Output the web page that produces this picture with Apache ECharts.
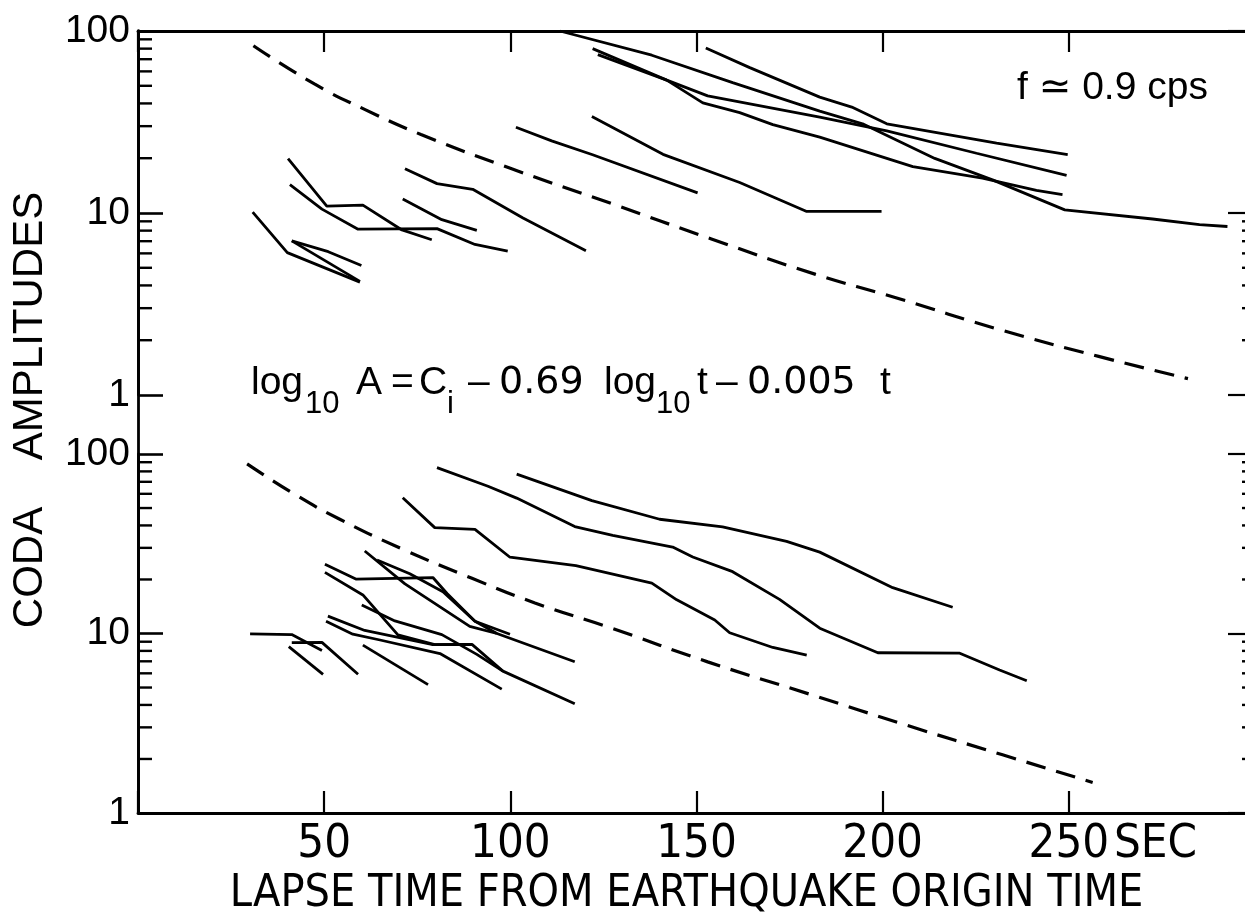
<!DOCTYPE html>
<html>
<head>
<meta charset="utf-8">
<script src="https://cdn.jsdelivr.net/npm/echarts@6.0.0/dist/echarts.min.js"></script>
<style>
  html, body { margin: 0; padding: 0; background: #fff; }
  #chart { width: 1245px; height: 917px; }
</style>
</head>
<body>
<div id="chart"></div>
<script>
// lapse time (s) and coda amplitude
const X_TICK_LABELS = ['50', '100', '150', '200', '250'];
const MINOR_TICKS = [2, 3, 4, 5, 6, 7, 8, 9, 20, 30, 40, 50, 60, 70, 80, 90];

// upper panel
const topDashed = [[31, 83], [47.5, 51], [61, 37], [76, 27], [100, 17.6], [127, 11.3], [154, 7.2], [182, 4.6], [204, 3.4], [231, 2.3], [258, 1.63], [282, 1.23]];
const topA = [[30.8, 10.1], [40.1, 6.06], [59.6, 4.17]];
const topB = [[41.3, 7.03], [51.1, 6.13], [60.0, 5.15]];
const topC = [[41.3, 7.03], [59.6, 4.21]];
const topD = [[40.3, 19.9], [50.7, 10.9], [60.4, 11.05], [70.9, 8.07], [78.9, 7.13]];
const topE = [[40.8, 14.3], [49.4, 10.5], [59.1, 8.15], [80.3, 8.21], [90.5, 6.72], [99.3, 6.17]];
const topF = [[71.7, 17.5], [80.3, 14.5], [89.9, 13.5], [103.4, 9.38], [120.3, 6.21]];
const topG = [[71.1, 11.95], [81.6, 9.19], [91.0, 8.02]];
const topH = [[101.5, 29.6], [111.1, 24.9], [122.1, 20.9], [150.3, 12.9]];
const topI = [[121.9, 33.9], [141.0, 21.0], [161.6, 14.7], [179.6, 10.2], [199.7, 10.2]];
const topQ = [[113.3, 100], [138.0, 73.6], [159.7, 52.0], [183.1, 36.3], [194.6, 30.9], [214.0, 19.95], [229.5, 15.2], [248.9, 10.4], [272.5, 9.27], [285.1, 8.63], [292.6, 8.43]];
const topP = [[122.1, 80.0], [142.0, 53.7], [153.0, 44.0], [183.1, 33.6], [201.1, 28.3], [225.2, 21.3], [249.4, 16.1]];
const topR = [[123.5, 74.2], [142.0, 53.7], [151.7, 40.3], [161.6, 35.6], [170.5, 30.6], [183.1, 26.1], [208.1, 18.0], [226.8, 15.55], [241.3, 13.3], [248.3, 12.6]];
const topS = [[152.5, 80.7], [164.3, 62.9], [183.1, 43.3], [191.7, 38.2], [201.1, 30.9], [230.6, 24.2], [249.7, 20.9]];

// lower panel
const botDashed = [[29.3, 88.1], [42.7, 58.6], [54.2, 43.3], [70.9, 29.6], [89.7, 20.3], [106.6, 14.8], [127.2, 10.7], [153.0, 6.95], [180.4, 4.59], [206.7, 3.07], [232.2, 2.11], [256.4, 1.48]];
const botU1 = [[80.3, 84.0], [94.0, 66.1], [101.7, 56.8], [117.3, 39.4], [127.5, 35.2], [143.6, 30.3], [149.0, 26.7], [159.7, 22.1], [172.3, 15.5], [183.1, 10.7], [198.7, 7.81], [220.7, 7.77], [231.4, 6.26], [238.7, 5.45]];
const botU2 = [[101.7, 77.3], [121.9, 55.0], [140.1, 43.3], [157.0, 39.3], [174.2, 32.6], [183.1, 28.4], [202.7, 18.0], [218.8, 14.0]];
const botU3 = [[71.1, 57.0], [79.7, 38.9], [90.5, 38.0], [99.9, 26.6], [117.6, 23.9], [138.0, 19.1], [144.7, 15.4], [154.9, 11.9], [158.9, 10.1], [170.5, 8.36], [179.6, 7.57]];
const botB1 = [[50.2, 24.3], [58.5, 20.1], [79.2, 20.5], [83.0, 16.7], [90.5, 11.7], [96.4, 10.0]];
const botB2 = [[50.2, 21.9], [60.4, 16.4], [69.8, 9.82], [79.7, 8.66], [89.7, 8.70], [98.0, 6.17], [117.3, 4.06]];
const botB3 = [[60.1, 14.4], [69.0, 11.75], [81.6, 9.86], [91.0, 7.65], [98.0, 6.17]];
const botB4 = [[51.0, 12.5], [60.9, 10.4], [79.2, 8.68], [89.7, 8.70]];
const botB5 = [[50.5, 11.7], [57.7, 9.91], [65.0, 9.2], [81.1, 7.73], [97.7, 4.9]];
const botB6 = [[60.9, 28.8], [71.7, 18.9], [89.1, 10.96], [96.4, 10.0], [117.3, 6.96]];
const botB7 = [[64.2, 25.7], [73.0, 21.5], [81.9, 17.1], [90.5, 11.7], [99.9, 9.91]];
const botW1 = [[30.1, 9.95], [41.3, 9.86], [49.4, 8.05]];
const botW2 = [[41.3, 8.9], [49.4, 8.92], [59.1, 5.93]];
const botW3 = [[40.5, 8.45], [49.7, 5.92]];
const botW4 = [[60.4, 8.61], [77.9, 5.19]];

const topCurves = [topA, topB, topC, topD, topE, topF, topG, topH, topI, topQ, topP, topR, topS];
const botCurves = [botU1, botU2, botU3, botB1, botB2, botB3, botB4, botB5, botB6, botB7, botW1, botW2, botW3, botW4];

const INK = '#000';
const NARROW = '"DejaVu Sans Condensed", "Liberation Sans Narrow", sans-serif';
const SANS = '"Liberation Sans", "DejaVu Sans", sans-serif';
const WIDE = '"DejaVu Sans", "Liberation Sans", sans-serif';

const chart = echarts.init(document.getElementById('chart'), null, { renderer: 'canvas' });

function solid(data, panel) {
  return {
    type: 'line', xAxisIndex: panel, yAxisIndex: panel, data: data,
    showSymbol: false, symbol: 'none', silent: true,
    lineStyle: { color: INK, width: 2.8 }
  };
}

function dashed(data, panel) {
  return {
    type: 'line', xAxisIndex: panel, yAxisIndex: panel, data: data,
    showSymbol: false, symbol: 'none', silent: true, smooth: true,
    lineStyle: { color: INK, width: 3.2, type: [20, 11] }
  };
}

// short minor ticks on a log axis (2..9, 20..90)
function minorTicks(values, panel, atX, dir, len) {
  return {
    type: 'custom', xAxisIndex: panel, yAxisIndex: panel, silent: true, clip: false,
    data: values.map(v => [atX, v]),
    renderItem: function (params, api) {
      const p = api.coord([api.value(0), api.value(1)]);
      return {
        type: 'line',
        shape: { x1: p[0], y1: p[1], x2: p[0] + dir * len, y2: p[1] },
        style: { stroke: INK, lineWidth: 2.4 }
      };
    }
  };
}

const yLeft = (grid) => ({
  type: 'log', gridIndex: grid, min: 1, max: 100, logBase: 10, position: 'left',
  axisLine: { show: true, lineStyle: { color: INK, width: 2.8 } },
  axisTick: { show: true, inside: true, length: 25, lineStyle: { color: INK, width: 2.6 } },
  axisLabel: { color: INK, fontSize: 39, fontFamily: SANS, margin: 8 },
  splitLine: { show: false }
});

const yRight = (grid) => ({
  type: 'log', gridIndex: grid, min: 1, max: 100, logBase: 10, position: 'right',
  axisLine: { show: false },
  axisTick: { show: true, inside: true, length: 27, lineStyle: { color: INK, width: 2.2 } },
  axisLabel: { show: false },
  splitLine: { show: false }
});

// pieces of the decay law, placed one by one (sub = subscript, num = digits)
const formulaPieces = [
  { t: 'log', x: 251 }, { t: '10', x: 305, sub: true },
  { t: 'A', x: 356 }, { t: '=', x: 391 }, { t: 'C', x: 419 }, { t: 'i', x: 447, sub: true },
  { t: '\u2013', x: 468 }, { t: '0.69', x: 499, num: true },
  { t: 'log', x: 604 }, { t: '10', x: 656, sub: true }, { t: 't', x: 697 },
  { t: '\u2013', x: 716 }, { t: '0.005', x: 747, num: true }, { t: 't', x: 880 }
];

const formulaGraphics = formulaPieces.map(p => ({
  type: 'text', x: p.x, y: p.sub ? 404 : 383,
  style: {
    text: p.t, fill: INK, align: 'left', verticalAlign: 'middle',
    font: p.sub ? '31px ' + SANS : (p.num ? '38px ' + WIDE : '39px ' + SANS)
  }
}));

const option = {
  backgroundColor: '#fff',
  animation: false,
  grid: [
    { left: 138, top: 31, width: 1117, height: 364, outerBoundsMode: 'none', containLabel: false },
    { left: 138, top: 454, width: 1117, height: 359, outerBoundsMode: 'none', containLabel: false },
    { left: 138, top: 31, width: 1117, height: 782, outerBoundsMode: 'none', containLabel: false }
  ],
  xAxis: [
    {
      type: 'value', gridIndex: 0, min: 0, max: 300, interval: 50, position: 'top',
      axisLine: { lineStyle: { color: INK, width: 2.8 } },
      axisTick: { inside: true, length: 21, lineStyle: { color: INK, width: 2.2 } },
      axisLabel: { show: false },
      splitLine: { show: false }
    },
    {
      type: 'value', gridIndex: 1, min: 0, max: 300, interval: 50, position: 'bottom',
      axisLine: { lineStyle: { color: INK, width: 2.8 } },
      axisTick: { inside: true, length: 22, lineStyle: { color: INK, width: 2.2 } },
      axisLabel: {
        color: INK, fontSize: 47, fontFamily: NARROW, margin: 8,
        formatter: v => X_TICK_LABELS.includes(String(v)) ? String(v) : ''
      },
      splitLine: { show: false },
      name: 'LAPSE TIME FROM EARTHQUAKE ORIGIN TIME',
      nameLocation: 'middle', nameGap: 59,
      nameTextStyle: { color: INK, fontSize: 44.5, fontFamily: NARROW, padding: [0, 20, 0, 0] }
    },
    { type: 'value', gridIndex: 2, min: 0, max: 300, show: false }
  ],
  yAxis: [
    yLeft(0), yLeft(1), yRight(0), yRight(1),
    {
      type: 'value', gridIndex: 2, min: 0, max: 1, position: 'left',
      axisLine: { show: true, lineStyle: { color: INK, width: 2.8 } },
      axisTick: { show: false }, axisLabel: { show: false }, splitLine: { show: false }
    }
  ],
  graphic: [
    {
      type: 'text', x: 30, y: 410, rotation: Math.PI / 2,
      style: { text: 'CODA    AMPLITUDES', fill: INK, font: '42px ' + SANS, align: 'center', verticalAlign: 'middle' }
    },
    {
      type: 'text', x: 1114, y: 821,
      style: { text: 'SEC', fill: INK, font: '47px ' + NARROW, align: 'left', verticalAlign: 'top' }
    },
    {
      type: 'text', x: 1017, y: 88,
      style: { text: 'f \u2243 0.9 cps', fill: INK, font: '39px ' + SANS, align: 'left', verticalAlign: 'middle' }
    },
    ...formulaGraphics
  ],
  series: [
    dashed(topDashed, 0),
    ...topCurves.map(c => solid(c, 0)),
    dashed(botDashed, 1),
    ...botCurves.map(c => solid(c, 1)),
    minorTicks(MINOR_TICKS, 0, 0, 1, 14),
    minorTicks(MINOR_TICKS, 1, 0, 1, 14),
    minorTicks(MINOR_TICKS.filter(v => v < 10), 0, 300, -1, 13),
    minorTicks(MINOR_TICKS, 1, 300, -1, 13)
  ]
};

chart.setOption(option);
</script>
</body>
</html>
